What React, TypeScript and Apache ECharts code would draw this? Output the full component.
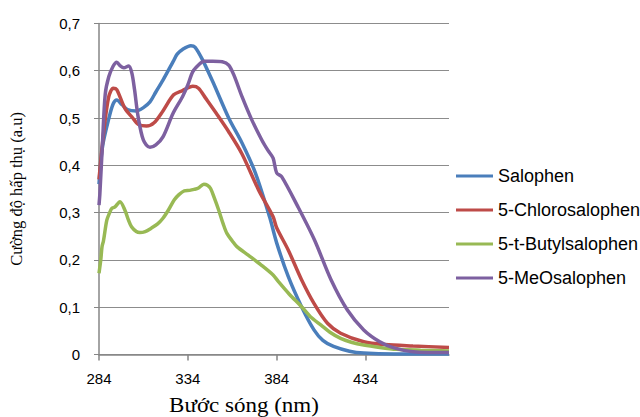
import React, { useEffect, useRef } from "react";
import * as echarts from "echarts";

const seriesNames = ["Salophen", "5-Chlorosalophen", "5-t-Butylsalophen", "5-MeOsalophen"];
const seriesColors = ["#4A7EBB", "#BE4B48", "#98B954", "#7D60A0"];

const salophenX = [284, 286, 289.6, 292, 294, 297, 300, 305, 309, 312.7, 316, 320, 325.7, 328, 331, 335.7, 338, 342, 348, 357, 364.5, 372, 380, 384, 390.5, 398, 405, 410, 416, 425, 433, 450, 481];
const salophenY = [0.36, 0.44, 0.5, 0.53, 0.538, 0.528, 0.518, 0.515, 0.522, 0.534, 0.555, 0.58, 0.619, 0.635, 0.645, 0.653, 0.65, 0.625, 0.577, 0.5, 0.447, 0.384, 0.291, 0.236, 0.165, 0.101, 0.052, 0.03, 0.017, 0.007, 0.003, 0.001, 0.001];

const chloroX = [284, 286.8, 289.5, 292, 294, 298.5, 303, 306, 310.7, 315, 320, 326, 331, 336.8, 340, 344, 350, 357, 364.5, 373.8, 382, 384, 390.5, 398, 405, 412.6, 420, 433, 445, 460.7, 481];
const chloroY = [0.37, 0.475, 0.545, 0.563, 0.56, 0.521, 0.5, 0.487, 0.483, 0.49, 0.515, 0.549, 0.558, 0.567, 0.563, 0.542, 0.51, 0.471, 0.424, 0.348, 0.291, 0.268, 0.221, 0.158, 0.108, 0.066, 0.045, 0.027, 0.021, 0.018, 0.015];

const butylX = [284, 285, 285.7, 286.5, 288.4, 290, 291.2, 293, 295.8, 298.6, 300.5, 302.3, 305, 307, 310, 313.4, 317, 320, 323, 326.4, 329, 332, 335, 337.5, 340, 343, 345, 346.8, 349, 351.4, 354, 356, 359, 361.6, 368, 375, 382, 385, 391, 398, 403, 409, 414, 420, 426, 433, 442, 451.6, 465, 481];
const butylY = [0.172, 0.2, 0.228, 0.24, 0.284, 0.3, 0.309, 0.312, 0.323, 0.305, 0.285, 0.27, 0.26, 0.258, 0.26, 0.267, 0.276, 0.288, 0.305, 0.327, 0.338, 0.346, 0.347, 0.349, 0.352, 0.36, 0.358, 0.351, 0.33, 0.305, 0.275, 0.256, 0.24, 0.228, 0.21, 0.19, 0.168, 0.154, 0.128, 0.101, 0.08, 0.062, 0.047, 0.034, 0.026, 0.02, 0.015, 0.011, 0.009, 0.0075];

const meoX = [284, 284.5, 286, 287.5, 289.5, 292, 294, 296, 298, 300.7, 302.5, 304, 306, 309, 312.7, 316, 320, 325.7, 331, 334, 336.8, 340, 343, 348, 353.4, 357, 360, 364.5, 370, 375.7, 379, 382, 384, 386.8, 396, 405.3, 414.6, 423.8, 433, 442, 450, 460.7, 481];
const meoY = [0.316, 0.34, 0.45, 0.55, 0.587, 0.61, 0.618, 0.61, 0.606, 0.61, 0.595, 0.56, 0.503, 0.453, 0.438, 0.443, 0.46, 0.51, 0.545, 0.57, 0.598, 0.612, 0.62, 0.62, 0.619, 0.612, 0.59, 0.545, 0.496, 0.453, 0.432, 0.415, 0.384, 0.376, 0.312, 0.242, 0.158, 0.094, 0.052, 0.027, 0.014, 0.006, 0.004];

const xTickValues = [284, 334, 384, 434];
const xTitle = "Bước sóng (nm)";
const yTitle = "Cường độ hấp thụ (a.u)";

const zip = (xs: number[], ys: number[]) => xs.map((x, i) => [x, ys[i]]);

export default function App() {
  const ref = useRef<HTMLDivElement>(null);
  useEffect(() => {
    const chart = echarts.init(ref.current!, null, { renderer: "svg" });
    const allData = [zip(salophenX, salophenY), zip(chloroX, chloroY), zip(butylX, butylY), zip(meoX, meoY)];
    chart.setOption({
      animation: false,
      backgroundColor: "#ffffff",
      grid: { left: 94, right: 191, top: 23.4, bottom: 62.5, containLabel: false },
      xAxis: {
        type: "value",
        min: 284,
        max: 481,
        axisLine: { show: true, lineStyle: { color: "#868686", width: 1.5 } },
        axisTick: { show: true, length: 6, customValues: xTickValues, lineStyle: { color: "#868686", width: 1.5 } },
        axisLabel: {
          customValues: xTickValues,
          margin: 16,
          fontFamily: "Liberation Sans, Arial, sans-serif",
          fontSize: 15,
          color: "#000",
        },
        splitLine: { show: false },
      },
      yAxis: {
        type: "value",
        min: 0,
        max: 0.7,
        interval: 0.1,
        name: yTitle,
        nameLocation: "middle",
        nameGap: 74,
        nameRotate: 90,
        nameTextStyle: { fontFamily: "Liberation Serif, Times New Roman, serif", fontSize: 16.5, color: "#000" },
        axisLine: { show: true, lineStyle: { color: "#868686", width: 1.5 } },
        axisTick: { show: true, length: 5, lineStyle: { color: "#868686", width: 1 } },
        axisLabel: {
          margin: 19,
          fontFamily: "Liberation Sans, Arial, sans-serif",
          fontSize: 15,
          color: "#000",
          formatter: (v: number) => (v === 0 ? "0" : v.toFixed(1).replace(".", ",")),
        },
        splitLine: { show: true, lineStyle: { color: "#8C8C8C", width: 1.2 } },
      },
      legend: {
        orient: "vertical",
        left: 451,
        top: 162,
        icon: "rect",
        itemWidth: 37,
        itemHeight: 3,
        itemGap: 16,
        textStyle: { fontFamily: "Liberation Sans, Arial, sans-serif", fontSize: 18, color: "#000" },
        data: seriesNames,
      },
      graphic: [
        {
          type: "text",
          x: 244,
          y: 406,
          scaleX: 1.15,
          style: {
            text: xTitle,
            fontFamily: "Liberation Serif, Times New Roman, serif",
            fontSize: 20,
            fill: "#000",
            textAlign: "center",
            textVerticalAlign: "middle",
          },
        },
      ],
      series: seriesNames.map((name, i) => ({
        name,
        type: "line",
        data: allData[i],
        smooth: 0.3,
        symbol: "none",
        showSymbol: false,
        color: seriesColors[i],
        lineStyle: { width: 3.5, color: seriesColors[i] },
        z: 2 + i,
      })),
    });
    return () => chart.dispose();
  }, []);
  return <div ref={ref} style={{ position: "absolute", left: 0, top: 0, width: 640, height: 417 }} />;
}
